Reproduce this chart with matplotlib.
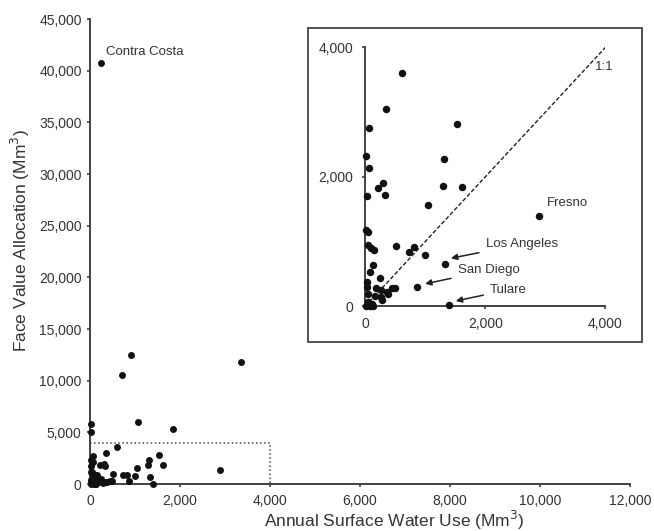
#!/usr/bin/env python3
# -*- coding: utf-8 -*-

"""Face value allocation vs annual surface water use, with zoomed inset."""

import numpy as np
import matplotlib
matplotlib.use("Agg")
import matplotlib.pyplot as plt
from matplotlib.patches import Rectangle
from matplotlib.ticker import FuncFormatter

# annual surface water use (Mm3) and face value allocation (Mm3), one pair per county
use = [611, 350, 72, 17, 61, 28, 306, 222, 339, 1528, 1306, 1294, 1617, 1044,
       2900, 17, 50, 56, 100, 150, 515, 740, 817, 1000, 1325, 139, 83, 255,
       33, 33, 180, 450, 495, 261, 365, 861, 167, 267, 389, 44, 290, 56,
       20, 80, 140, 110, 1400,
       239, 904, 704, 3348, 1059, 1837, 22, 22]
alloc = [3608, 3041, 2748, 2320, 2139, 1706, 1912, 1835, 1727, 2810, 2284, 1861,
         1851, 1565, 1400, 1173, 1145, 951, 899, 874, 937, 845, 915, 787, 660,
         648, 530, 440, 383, 298, 288, 282, 280, 262, 225, 308, 160, 150, 188,
         188, 105, 72, 10, 10, 10, 40, 25,
         40700, 12450, 10550, 11850, 6000, 5350, 5800, 5000]

# labelled counties: name, point, text position (inset only for the last four)
contra_costa = (239, 40700)
fresno_text = (3030, 1590)
arrow_names = ["Los Angeles", "San Diego", "Tulare"]
arrow_text = [(2010, 960), (1545, 557), (2083, 258)]
arrow_head = [(1430, 745), (1000, 350), (1510, 85)]

main_xticks = [0, 2000, 4000, 6000, 8000, 10000, 12000]
main_yticks = [0, 5000, 10000, 15000, 20000, 25000, 30000, 35000, 40000, 45000]
inset_ticks = [0, 2000, 4000]
ZOOM = 4000

TXT = "#333333"
DOT = "#111111"

plt.rcParams["font.family"] = ["Liberation Sans", "DejaVu Sans"]
plt.rcParams["text.color"] = TXT
plt.rcParams["axes.edgecolor"] = TXT
plt.rcParams["xtick.color"] = TXT
plt.rcParams["ytick.color"] = TXT

comma = FuncFormatter(lambda v, p: "{:,.0f}".format(v))


def style_axes(ax, pad_x, pad_y):
    """Left and bottom spines only, outward ticks."""
    for side in ("top", "right"):
        ax.spines[side].set_visible(False)
    for side in ("left", "bottom"):
        ax.spines[side].set_linewidth(1.3)
    ax.tick_params(axis="x", direction="out", length=2.5, width=1.1,
                   labelsize=10, pad=pad_x, labelcolor=TXT)
    ax.tick_params(axis="y", direction="out", length=2.5, width=1.1,
                   labelsize=10, pad=pad_y, labelcolor=TXT)
    ax.xaxis.set_major_formatter(comma)
    ax.yaxis.set_major_formatter(comma)


def main():
    """Main function."""
    x = np.array(use, dtype=float)
    y = np.array(alloc, dtype=float)

    fig = plt.figure(figsize=(6.54, 5.31), dpi=100)

    # main panel
    ax = fig.add_axes([0.1376, 0.0885, 0.8257, 0.8757])
    ax.scatter(x, y, s=25, color=DOT, clip_on=False, zorder=3, linewidths=0)
    ax.plot([0, ZOOM, ZOOM], [ZOOM, ZOOM, 0], ls=":", color="#444444", lw=1.1)
    ax.set_xlim(0, 12000)
    ax.set_ylim(0, 45000)
    ax.set_xticks(main_xticks)
    ax.set_yticks(main_yticks)
    style_axes(ax, 5, 3.5)
    ax.text(contra_costa[0] + 120, contra_costa[1] + 1100, "Contra Costa",
            fontsize=9.5, ha="left", va="center")

    fig.text(394 / 654, 1 - 527 / 531, "Annual Surface Water Use (Mm$^3$)",
             fontsize=12.5, ha="center", va="baseline")
    fig.text(20 / 654, 1 - 241 / 531, "Face Value Allocation (Mm$^3$)",
             fontsize=12.5, ha="center", va="center", rotation=90)

    # frame around the inset
    fig.add_artist(Rectangle((0.4705, 0.3565), 0.5116, 0.5902,
                             transform=fig.transFigure, fill=False,
                             edgecolor="#444444", lw=1.3))

    # inset panel
    ins = fig.add_axes([0.5581, 0.4228, 0.3677, 0.4881])
    ins.patch.set_alpha(0)
    keep = (x <= ZOOM) & (y <= ZOOM)
    ins.scatter(x[keep], y[keep], s=29, color=DOT, clip_on=False, zorder=3,
                linewidths=0)
    ins.plot([0, ZOOM], [0, ZOOM], ls=(0, (3, 1.5)), color="#222222", lw=1.0)
    ins.set_xlim(0, ZOOM)
    ins.set_ylim(0, ZOOM)
    ins.set_xticks(inset_ticks)
    ins.set_yticks(inset_ticks)
    style_axes(ins, 5, 6)
    ins.text(3830, 3700, "1:1", fontsize=9.5, ha="left", va="center")
    ins.text(fresno_text[0], fresno_text[1], "Fresno", fontsize=9.5,
             ha="left", va="center")
    for name, txt, head in zip(arrow_names, arrow_text, arrow_head):
        ins.annotate(name, xy=head, xytext=txt, fontsize=9.5, ha="left",
                     va="center",
                     arrowprops=dict(arrowstyle="-|>", color="#222222", lw=1.1,
                                     mutation_scale=9, shrinkA=3, shrinkB=0))

    fig.savefig("out.png", dpi=100)


if __name__ == "__main__":
    main()
